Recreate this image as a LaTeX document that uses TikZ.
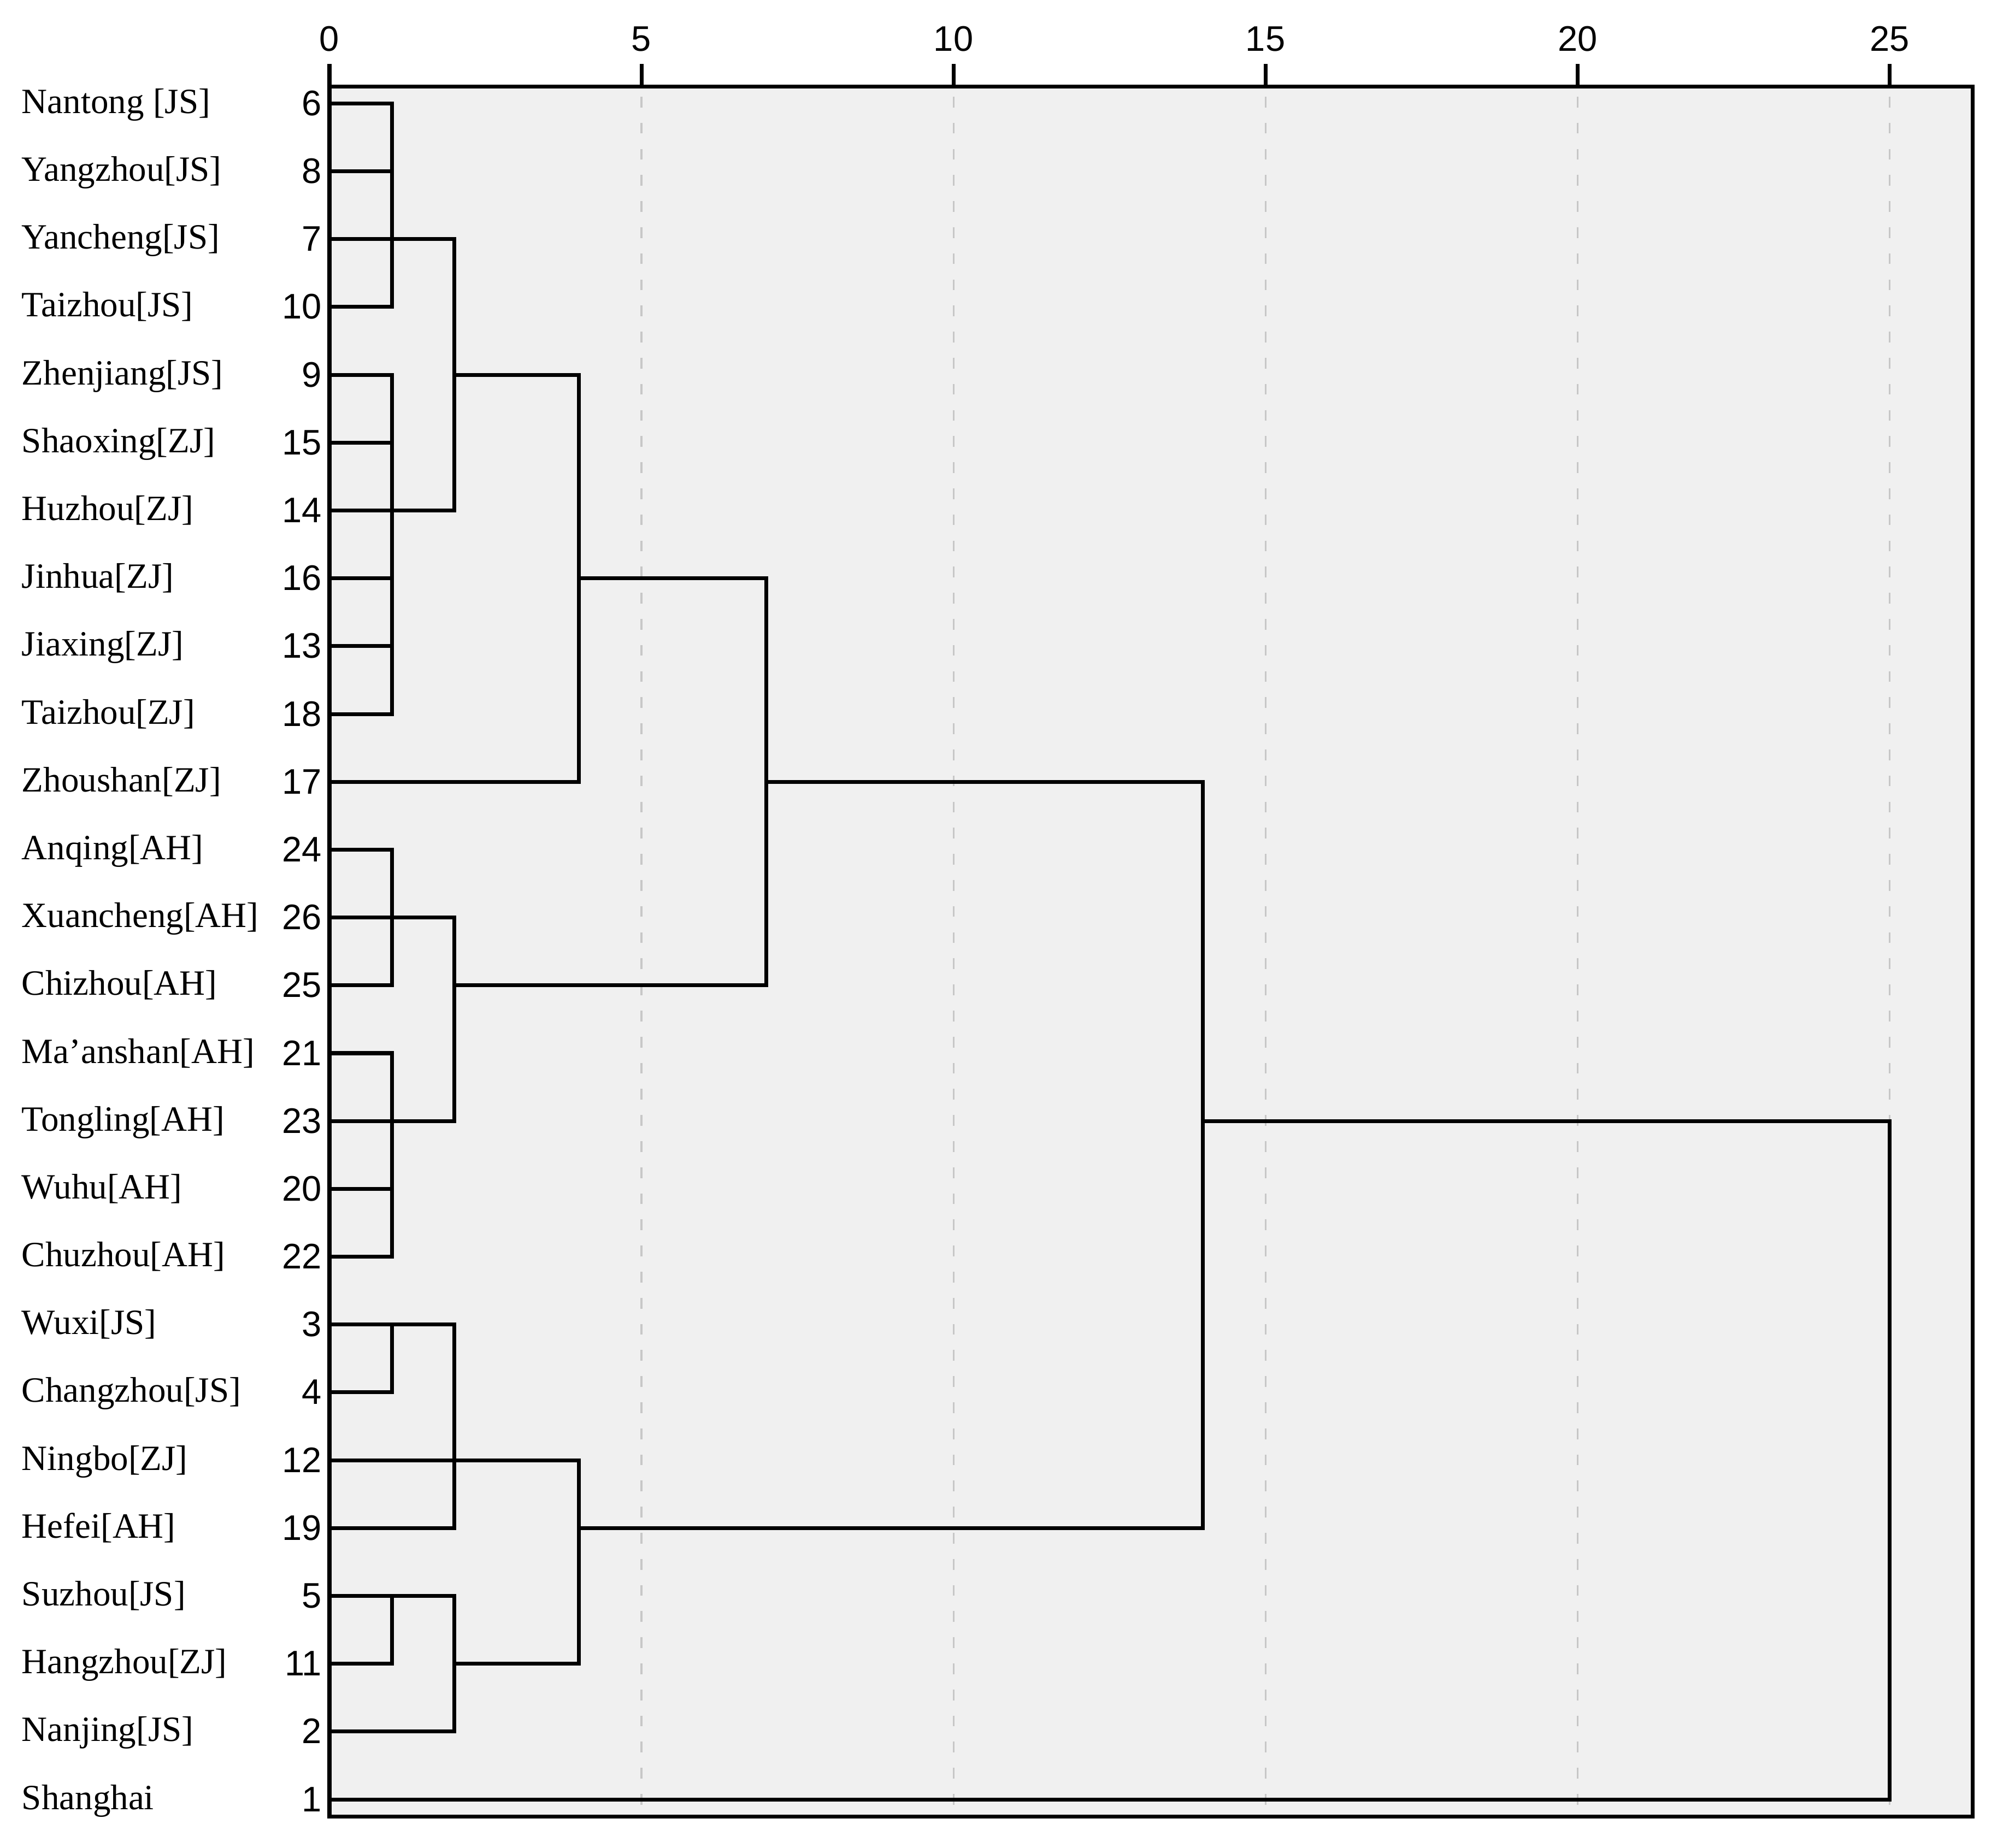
\documentclass[tikz,border=0pt]{standalone}
\usepackage{fontspec}
\setmainfont{Liberation Serif}
\newfontfamily\numfont{Liberation Sans}
\begin{document}
\begin{tikzpicture}[x=0.571cm,y=-0.6209cm,line width=1pt,
cityname/.style={anchor=base west,inner sep=0pt,outer sep=0pt,yshift=-0.09cm,font=\fontsize{9.25}{11}\selectfont},
casenum/.style={anchor=base east,inner sep=0pt,outer sep=0pt,xshift=-0.07cm,yshift=-0.11cm,font=\numfont\fontsize{9.25}{11}\selectfont},
ticklabel/.style={anchor=base,inner sep=0pt,outer sep=0pt,font=\numfont\fontsize{9.25}{11}\selectfont},
gridline/.style={draw=black!22,line width=0.45pt,dash pattern=on 2.8pt off 4pt},
link/.style={line cap=rect}]
\useasboundingbox (-5.28,-1.525) rectangle (26.82,25.71);
\fill[black!6] (0,-0.245) rectangle (26.33,25.25);
\foreach \d in {5,10,...,25}
  \draw[gridline] (\d,-0.1) -- (\d,25.25);
\foreach \d in {0,5,...,25}
  \draw (\d,-0.245) -- (\d,-0.583) (\d,-0.776) node[ticklabel] (tick\d) {\d};
\foreach \city/\num/\len [count=\i from 0] in {Nantong [JS]/6/1,Yangzhou[JS]/8/1,Yancheng[JS]/7/1,Taizhou[JS]/10/1,
  Zhenjiang[JS]/9/1,Shaoxing[ZJ]/15/1,Huzhou[ZJ]/14/1,Jinhua[ZJ]/16/1,Jiaxing[ZJ]/13/1,Taizhou[ZJ]/18/1,
  Zhoushan[ZJ]/17/4,Anqing[AH]/24/1,Xuancheng[AH]/26/1,Chizhou[AH]/25/1,Ma’anshan[AH]/21/1,Tongling[AH]/23/1,
  Wuhu[AH]/20/1,Chuzhou[AH]/22/1,Wuxi[JS]/3/1,Changzhou[JS]/4/1,Ningbo[ZJ]/12/2,Hefei[AH]/19/2,
  Suzhou[JS]/5/1,Hangzhou[ZJ]/11/1,Nanjing[JS]/2/2,Shanghai/1/25}{
  \coordinate (leaf\num) at (0,\i);
  \node[cityname] (city\num) at (-4.93,\i) {\city};
  \node[casenum] (case\num) at (leaf\num) {\num};
  \draw[link] (leaf\num) -- ++(\len,0);
}
\foreach \x/\a/\b/\m/\nx in {1/0/3/2/2,1/4/9/6/2,2/2/6/4/4,4/4/10/7/7,1/11/13/12/2,1/14/17/15/2,2/12/15/13/7,
  7/7/13/10/14,1/18/19/18/2,2/18/21/20/4,1/22/23/22/2,2/22/24/23/4,4/20/23/21/14,14/10/21/15/25}
  \draw[link] (\x,\a) -- (\x,\b) (\x,\m) -- (\nx,\m);
\draw[link] (25,15) -- (25,25);
\draw (0,-0.245) rectangle (26.33,25.25);
\end{tikzpicture}
\end{document}
